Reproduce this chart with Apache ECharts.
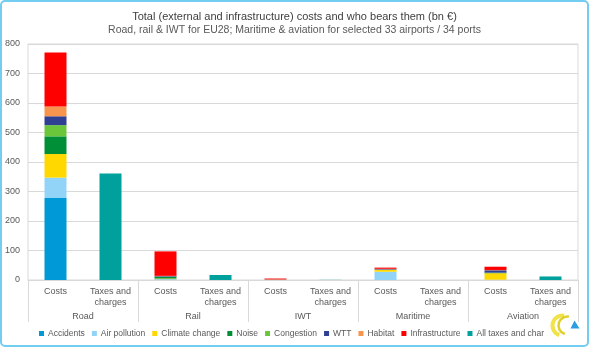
<!DOCTYPE html>
<html>
<head>
<meta charset="utf-8">
<script src="https://cdn.jsdelivr.net/npm/echarts@6/dist/echarts.min.js"></script>
<style>
  html, body { margin: 0; padding: 0; background: #fff; }
  #chart { width: 589px; height: 347px; }
</style>
</head>
<body>
<div id="chart"></div>
<script>
// Transport modes and the two bars drawn for each
const modes = ['Road', 'Rail', 'IWT', 'Maritime', 'Aviation'];
const barLabels = ['Costs', 'Taxes and\ncharges'];

// Cost components per mode (bn €)
const accidents      = [278, 1, 0, 0, 0];
const airPollution   = [69, 2, 0.5, 28, 1];
const climateChange  = [80, 2, 0.5, 7, 22];
const noise          = [60, 6, 0, 0, 2];
const congestion     = [38, 0, 0, 0, 0];
const wtt            = [30, 2, 0.5, 2, 8];
const habitat        = [33, 1, 0.5, 1, 1];
const infrastructure = [183, 83, 3, 4, 11];
// Taxes and charges paid per mode (bn €)
const taxesCharges   = [361, 17, 0.5, 0, 12];

const costSeries = [
  { name: 'Accidents',      values: accidents,      color: '#0099d8' },
  { name: 'Air pollution',  values: airPollution,   color: '#92d3f8' },
  { name: 'Climate change', values: climateChange,  color: '#ffd800' },
  { name: 'Noise',          values: noise,          color: '#008f36' },
  { name: 'Congestion',     values: congestion,     color: '#6cc63c' },
  { name: 'WTT',            values: wtt,            color: '#2f3f94' },
  { name: 'Habitat',        values: habitat,        color: '#f7944e' },
  { name: 'Infrastructure', values: infrastructure, color: '#ff0000' }
];

// Ten bar slots: Costs / Taxes and charges for each mode
const slots = [];
modes.forEach(() => barLabels.forEach(l => slots.push(l)));

function costSlots(vals) {
  const out = [];
  vals.forEach(v => { out.push(v); out.push(null); });
  return out;
}
function taxSlots(vals) {
  const out = [];
  vals.forEach(v => { out.push(null); out.push(v); });
  return out;
}

const series = costSeries.map(s => ({
  name: s.name,
  type: 'bar',
  stack: 'total',
  barWidth: '40%',
  itemStyle: { color: s.color },
  data: costSlots(s.values)
}));
series.push({
  name: 'All taxes and charges',
  type: 'bar',
  stack: 'total',
  barWidth: '40%',
  itemStyle: { color: '#00a09c' },
  data: taxSlots(taxesCharges)
});

const txt = '#595959';
const gridCol = '#d9d9d9';
const font = 'Liberation Sans';

const chart = echarts.init(document.getElementById('chart'), null, { renderer: 'canvas' });
chart.setOption({
  animation: false,
  textStyle: { fontFamily: font },
  title: {
    text: 'Total (external and infrastructure) costs and who bears them (bn €)',
    subtext: 'Road, rail & IWT for EU28; Maritime & aviation for selected 33 airports / 34 ports',
    left: 'center',
    top: 6,
    itemGap: 3,
    textStyle: { fontSize: 11, fontWeight: 'normal', color: '#404040', fontFamily: font },
    subtextStyle: { fontSize: 10.5, color: txt, fontFamily: font }
  },
  grid: {
    left: 28, right: 11, top: 44, bottom: 67,
    show: true, borderColor: gridCol, borderWidth: 1
  },
  legend: {
    bottom: 4,
    left: 34,
    itemWidth: 5,
    itemHeight: 5,
    itemGap: 7,
    icon: 'rect',
    textStyle: { fontSize: 8.5, color: txt, fontFamily: font, padding: [0, 0, 0, -1] },
    data: costSeries.map(s => s.name).concat([{
      name: 'All taxes and charges',
      textStyle: { width: 74, overflow: 'truncate', ellipsis: '' }
    }])
  },
  xAxis: [
    {
      type: 'category',
      data: slots,
      position: 'bottom',
      axisLine: { show: true, lineStyle: { color: gridCol } },
      axisTick: { show: false },
      axisLabel: { fontSize: 9, color: txt, margin: 6, lineHeight: 11, interval: 0 }
    },
    {
      type: 'category',
      data: modes,
      position: 'bottom',
      axisLine: { show: false },
      axisTick: { show: true, length: 42, lineStyle: { color: gridCol } },
      axisLabel: { fontSize: 9, color: txt, margin: 32, interval: 0 }
    }
  ],
  yAxis: {
    type: 'value',
    min: 0,
    max: 800,
    interval: 100,
    axisLine: { show: false },
    axisTick: { show: false },
    splitLine: { lineStyle: { color: gridCol } },
    axisLabel: { fontSize: 9, color: txt, margin: 8 }
  },
  series: series,
  graphic: [
    {
      type: 'rect',
      shape: { x: 1, y: 1, width: 587, height: 345, r: 4 },
      style: { fill: null, stroke: '#72cdf1', lineWidth: 2 },
      silent: true
    },
    {
      type: 'group',
      left: 550,
      top: 313,
      children: [
        { type: 'arc', shape: { cx: 12, cy: 13, r: 10, startAngle: Math.PI * 0.6, endAngle: Math.PI * 1.55 },
          style: { stroke: '#f2e24a', lineWidth: 4, fill: null } },
        { type: 'arc', shape: { cx: 17, cy: 13, r: 9, startAngle: Math.PI * 0.6, endAngle: Math.PI * 1.55 },
          style: { stroke: '#e0cf2c', lineWidth: 2.5, fill: null } },
        { type: 'polygon', shape: { points: [[24, 8], [29, 16], [20, 16]] },
          style: { fill: '#2a9fe0' } }
      ]
    }
  ]
});
</script>
</body>
</html>
